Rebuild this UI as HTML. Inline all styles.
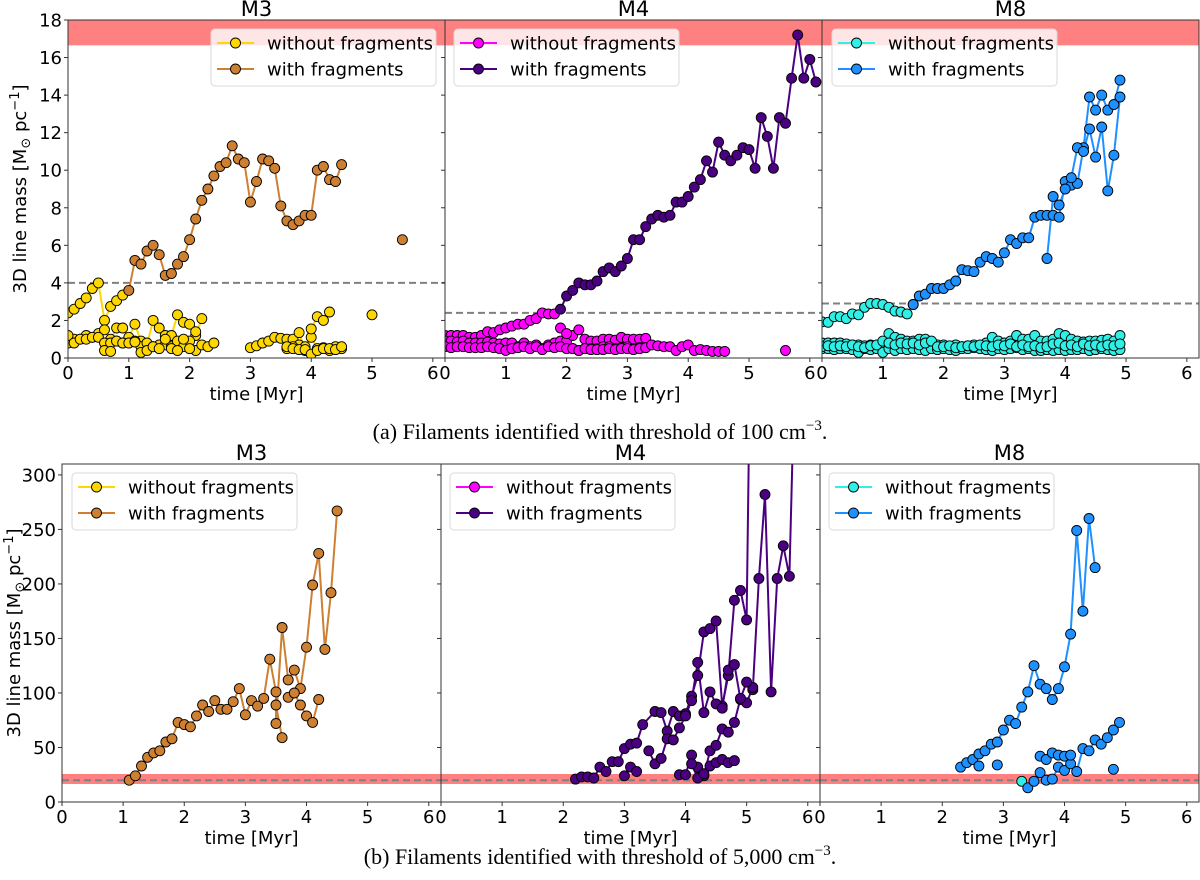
<!DOCTYPE html>
<html><head><meta charset="utf-8">
<style>
html,body{margin:0;padding:0;background:#fff;}
svg{display:block;}
text{font-family:"DejaVu Sans","Liberation Sans",sans-serif;fill:#000;}
.cap{font-family:"Liberation Serif",serif;font-size:22px;}
</style></head>
<body>
<svg id="fig" width="1200" height="880" viewBox="0 0 1200 880" xmlns="http://www.w3.org/2000/svg">
<text class="cap" x="600" y="439" text-anchor="middle">(a) Filaments identified with threshold of 100 cm<tspan dy="-9" font-size="15">−3</tspan><tspan dy="9">.</tspan></text>
<text class="cap" x="600" y="864" text-anchor="middle">(b) Filaments identified with threshold of 5,000 cm<tspan dy="-9" font-size="15">−3</tspan><tspan dy="9">.</tspan></text>
</svg>
<script>
// ===== DATA: top row (threshold 100) =====
const yTicksTop = [0,2,4,6,8,10,12,14,16,18];
const yTicksBottom = [0,50,100,150,200,250,300];
const xTicks = [0,1,2,3,4,5,6];
const thresholdsTop = [4.0, 2.4, 2.9];
const bandTop = [16.65, 18];
const thresholdsBottom = [20, 20, 20];
const bandBottom = [16.5, 25.7];

const m3aWithoutT = [
 [0,0.1,0.2,0.3,0.4,0.5,0.6,0.7,0.8,0.9],
 [0,0.1,0.2,0.3,0.4,0.5,0.6,0.7,0.8,0.9,1.0,1.1,1.2,1.3,1.4,1.5,1.6,1.7,1.8,1.9,2.0,2.1,2.2],
 [0,0.1,0.2,0.3,0.4,0.5,0.6,0.7,0.8,0.9,1.0,1.1,1.2,1.3,1.4,1.5,1.6,1.7,1.8,1.9,2.0,2.1,2.2,2.3,2.4],
 [0.6,0.7,0.8,0.9,1.0,1.1,1.2,1.3,1.4,1.5,1.6,1.7,1.8,1.9,2.0,2.1],
 [3.0,3.1,3.2,3.3,3.4,3.5,3.6,3.7,3.8,3.9,4.0,4.1,4.2,4.3,4.4,4.5],
 [3.6,3.7,3.8,3.9,4.0,4.1,4.2,4.3],
 [3.6,3.7,3.8,3.9,4.0,4.1,4.2,4.3,4.4,4.5],
 [5.0]
];
const m3aWithoutV = [
 [2.4,2.6,2.9,3.2,3.7,4.0,2.0,2.75,3.05,3.35],
 [0.8,1.0,1.0,1.2,1.1,1.3,1.5,1.0,1.6,1.6,1.1,1.8,0.9,0.7,2.0,1.6,1.2,1.2,2.3,1.9,1.8,1.2,2.1],
 [1.2,0.8,1.0,1.0,1.1,1.1,0.8,0.8,0.9,0.8,0.8,0.9,0.6,0.8,0.6,0.7,0.7,0.6,0.9,0.6,0.9,0.4,0.7,0.6,0.8],
 [0.4,0.35,0.9,0.8,0.8,0.85,0.3,0.4,0.6,0.5,1.0,0.5,0.4,1.0,0.5,1.4],
 [0.55,0.65,0.8,0.9,1.1,1.05,1.0,1.0,0.7,0.6,1.1,0.5,0.55,0.4,0.6,0.5],
 [0.5,0.6,1.35,0.4,1.55,2.2,2.0,2.45],
 [0.6,0.5,0.45,0.45,0.2,0.4,0.5,0.5,0.45,0.6],
 [2.3]
];
const m3aWithT = [
 [1.0,1.1,1.2,1.3,1.4,1.5,1.6,1.7,1.8,1.9,2.0,2.1,2.2,2.3,2.4,2.5,2.6,2.7,2.8,2.9,3.0,3.1,3.2,3.3,3.4,3.5,3.6,3.7,3.8,3.9,4.0,4.1,4.2,4.3,4.4,4.5],
 [5.5]
];
const m3aWithV = [
 [3.6,5.2,5.0,5.7,6.0,5.5,4.4,4.5,5.0,5.4,6.3,7.4,8.4,9.0,9.7,10.2,10.4,11.3,10.6,10.4,8.3,9.4,10.6,10.5,10.1,8.1,7.3,7.1,7.3,7.6,7.6,10.0,10.2,9.5,9.4,10.3],
 [6.3]
];

const m4aWithoutT = [
 [0,0.1,0.2,0.3,0.4,0.5,0.6,0.7,0.8,0.9,1.0,1.1,1.2,1.3,1.4,1.5,1.6,1.7,1.8],
 [0,0.1,0.2,0.3,0.4,0.5,0.6,0.7,0.8,0.9,1.0,1.1,1.2,1.3,1.4,1.5,1.6,1.7,1.8,1.9,2.0,2.1,2.2,2.3,2.4,2.5,2.6,2.7,2.8,2.9,3.0,3.1,3.2,3.3],
 [1.9,2.0,2.1,2.2,2.3,2.4,2.5,2.6,2.7,2.8,2.9,3.0,3.1,3.2,3.3],
 [0,0.1,0.2,0.3,0.4,0.5,0.6,0.7,0.8,0.9,1.0,1.1,1.2,1.3,1.4,1.5,1.6,1.7,1.8,1.9,2.0,2.1,2.2,2.3,2.4,2.5,2.6,2.7,2.8,2.9,3.0,3.1,3.2,3.3,3.4,3.5,3.6,3.7,3.8,3.9,4.0,4.1,4.2,4.3,4.4,4.5,4.6],
 [5.6]
];
const m4aWithoutV = [
 [1.2,1.2,1.2,1.2,1.1,1.1,1.2,1.4,1.35,1.5,1.6,1.7,1.8,1.8,2.0,2.1,2.4,2.35,2.35],
 [0.9,0.9,0.85,0.9,0.8,0.8,0.8,0.85,0.8,0.75,0.8,0.8,0.6,0.8,0.6,0.7,0.5,0.7,0.8,0.9,0.9,1.2,1.5,1.0,0.9,0.9,1.0,1.0,0.95,1.1,1.0,1.0,1.0,1.05],
 [1.6,1.3,0.5,0.4,0.5,0.5,0.5,0.6,0.6,0.5,0.55,0.6,0.5,0.55,0.55],
 [0.6,0.55,0.6,0.6,0.55,0.55,0.55,0.6,0.55,0.5,0.4,0.5,0.55,0.6,0.5,0.6,0.45,0.6,0.55,0.6,0.5,0.5,0.4,0.5,0.45,0.45,0.45,0.5,0.45,0.5,0.5,0.45,0.5,0.55,0.7,0.65,0.6,0.6,0.4,0.6,0.7,0.4,0.45,0.4,0.35,0.35,0.35],
 [0.4]
];
const m4aWithT = [
 [1.9,2.0,2.1,2.2,2.3,2.4,2.5,2.6,2.7,2.8,2.9,3.0,3.1,3.2,3.3,3.4,3.5,3.6,3.7,3.8,3.9,4.0,4.1,4.2,4.3,4.4,4.5,4.6,4.7,4.8,4.9,5.0,5.1,5.2,5.3,5.4,5.5,5.6,5.7,5.8,5.9,6.0,6.1]
];
const m4aWithV = [
 [2.6,3.3,3.6,4.0,3.9,3.9,4.1,4.6,4.8,4.6,4.9,5.3,6.3,6.3,7.0,7.4,7.6,7.5,7.6,8.3,8.3,8.6,9.1,9.5,10.5,9.9,11.5,10.8,10.5,10.8,11.2,11.1,10.1,12.8,11.8,10.1,12.8,12.5,14.9,17.2,14.9,15.9,14.7]
];

const m8aWithoutT = [
 [0,0.1,0.2,0.3,0.4,0.5,0.6,0.7,0.8,0.9,1.0,1.1,1.2,1.3,1.4,1.5],
 [0,0.1,0.2,0.3,0.4,0.5,0.6,0.7,0.8,0.9,1.0,1.1,1.2,1.3,1.4,1.5,1.6,1.7,1.8,1.9,2.0,2.1,2.2,2.3,2.4,2.5,2.6,2.7,2.8,2.9,3.0,3.1,3.2,3.3,3.4,3.5,3.6,3.7,3.8,3.9,4.0,4.1,4.2,4.3,4.4,4.5,4.6,4.7,4.8,4.9],
 [0,0.1,0.2,0.3,0.4,0.5,0.6,0.7,0.8,0.9,1.0,1.1,1.2,1.3,1.4,1.5,1.6,1.7,1.8,1.9,2.0,2.1,2.2,2.3,2.4,2.5,2.6,2.7,2.8,2.9,3.0,3.1,3.2,3.3,3.4,3.5,3.6,3.7,3.8,3.9,4.0,4.1,4.2,4.3,4.4,4.5,4.6,4.7,4.8,4.9],
 [0,0.1,0.2,0.3,0.4,0.5,0.6,0.7,0.8,0.9,1.0,1.1,1.2,1.3,1.4,1.5,1.6,1.7,1.8,1.9,2.0,2.1,2.2,2.3,2.4,2.5,2.6,2.7,2.8,2.9,3.0,3.1,3.2,3.3,3.4,3.5,3.6,3.7,3.8,3.9,4.0,4.1,4.2,4.3,4.4,4.5,4.6,4.7,4.8,4.9]
];
const m8aWithoutV = [
 [1.93,1.9,2.2,2.2,2.1,2.35,2.3,2.7,2.9,2.9,2.85,2.7,2.5,2.45,2.35,2.85],
 [0.8,0.8,0.8,0.8,0.75,0.7,0.7,0.65,0.7,0.6,0.8,1.3,1.1,1.0,0.9,0.9,1.0,1.0,0.8,0.7,0.7,0.6,0.7,0.6,0.65,0.7,0.6,0.8,1.1,0.9,0.8,0.9,1.2,1.0,1.0,1.2,0.9,0.9,1.0,1.3,1.2,1.0,0.9,0.85,0.9,0.9,0.95,1.0,0.9,1.2],
 [0.5,0.5,0.45,0.5,0.5,0.45,0.3,0.5,0.45,0.5,0.3,0.5,0.4,0.5,0.45,0.5,0.45,0.4,0.5,0.45,0.5,0.45,0.4,0.5,0.5,0.55,0.5,0.45,0.4,0.5,0.45,0.5,0.55,0.45,0.5,0.4,0.4,0.45,0.4,0.45,0.4,0.45,0.45,0.5,0.4,0.45,0.5,0.45,0.4,0.45],
 [0.6,0.65,0.6,0.65,0.6,0.7,0.6,0.55,0.65,0.7,0.9,0.8,0.7,0.8,0.75,0.8,0.7,0.8,0.9,0.6,0.6,0.65,0.55,0.6,0.65,0.6,0.7,0.65,0.6,0.7,0.65,0.75,0.6,0.7,0.6,0.65,0.55,0.6,0.75,0.8,0.65,0.7,0.6,0.75,0.65,0.7,0.6,0.7,0.65,0.75]
];
const m8aWithT = [
 [1.5,1.6,1.7,1.8,1.9,2.0,2.1,2.2,2.3,2.4,2.5,2.6,2.7,2.8,2.9,3.0,3.1,3.2,3.3,3.4,3.5,3.6,3.7,3.8,3.9,4.0,4.1,4.2,4.3,4.4,4.5,4.6,4.7,4.8,4.9],
 [3.7,3.8,3.9,4.0,4.1,4.2,4.3,4.4,4.5,4.6,4.7,4.8,4.9]
];
const m8aWithV = [
 [2.85,3.3,3.4,3.7,3.7,3.7,3.9,4.1,4.7,4.65,4.6,5.1,5.4,5.3,5.1,5.6,6.3,6.1,6.4,6.4,7.5,7.6,7.6,7.6,7.5,9.4,9.2,9.3,11.2,13.9,13.2,14.0,13.2,13.5,14.8],
 [5.3,8.6,8.15,9.0,9.6,11.2,11.0,12.2,10.7,12.3,8.9,10.8,13.9]
];

// ===== DATA: bottom row (threshold 5000) =====
const m3bWithT = [
 [1.1,1.2,1.3,1.4,1.5,1.6,1.7,1.8,1.9,2.0,2.1,2.2,2.3,2.4,2.5,2.6,2.7,2.8,2.9,3.0,3.1,3.2,3.3,3.4,3.5,3.5,3.6,3.7,3.8,3.9,4.0,4.1,4.2,4.3,4.4,4.5],
 [3.5,3.6],
 [3.7,3.8,3.9,4.0,4.1,4.2]
];
const m3bWithV = [
 [20,24,33,41,45,47,55,58,73,71,69,79,89,83,93,85,85,92,104,80,93,88,95,131,101,72,160,112,121,104,142,199,228,140,192,267],
 [89,59],
 [96,100,89,79,73,94]
];
const m4bWithT = [
 [2.2,2.3,2.4,2.5,2.6,2.7,2.8,2.9,3.0,3.1,3.2,3.3,3.5,3.6,3.7,3.8,3.9,4.0,4.1,4.2,4.3,4.4,4.5,4.6,4.7,4.8,4.9,5.0,5.04],
 [5.1,5.2,5.3,5.4,5.5,5.6,5.7,5.76],
 [3.4,3.5,3.6,3.7,3.8,3.9,4.0,4.1,4.2,4.3,4.4,4.5,4.6,4.7,4.8,4.9,5.0,5.1],
 [3.0,3.1,3.2],
 [3.9,4.0,4.1,4.2,4.3,4.4,4.5,4.6,4.7,4.8,4.9,5.0],
 [4.1,4.2,4.3,4.4,4.5,4.6,4.7,4.8]
];
const m4bWithV = [
 [21,23,23,22,32,28,37,37,49,53,54,71,83,82,65,83,79,81,97,116,156,159,166,88,116,185,194,167,340],
 [103,205,282,101,205,235,207,340],
 [47,35,40,58,57,68,79,93,128,82,101,90,86,121,126,94,91,105],
 [24,32,28],
 [25,25,43,32,24,47,52,67,64,73,95,110],
 [35,22,26,33,36,39,36,38]
];
const m8bWithoutT = [[3.3]];
const m8bWithoutV = [[19]];
const m8bWithT = [
 [2.3,2.4,2.5,2.6,2.7,2.8,2.9,3.0,3.1,3.2,3.3,3.4,3.5,3.6,3.7,3.8,3.9,4.0,4.1,4.2,4.3,4.4,4.5],
 [3.4,3.5,3.6,3.7,3.8,3.9,4.0,4.1,4.2,4.3,4.4,4.5,4.6,4.7,4.8,4.9],
 [3.6,3.7,3.8,3.9,4.0,4.1],
 [2.6],[2.9],[4.8]
];
const m8bWithV = [
 [32,36,39,44,47,53,55,66,75,72,87,101,125,108,104,94,104,124,154,249,175,260,215],
 [13,19,27,20,21,32,29,35,28,49,47,57,53,59,66,73],
 [42,39,45,43,42,43],
 [33],[34],[30]
];

// ===== rendering =====
const NS = 'http://www.w3.org/2000/svg';
const svg = document.getElementById('fig');
function mk(tag, attrs, parent){
  const e = document.createElementNS(NS, tag);
  for (const k in attrs) e.setAttribute(k, attrs[k]);
  (parent||svg).appendChild(e);
  return e;
}
const COLORS = {gold:'#ffd700', brown:'#cd7f32', magenta:'#ff00ff', indigo:'#4b0082', cyan:'#2ef0e6', blue:'#1e90ff'};
let clipId = 0;

function panel(p){
  const g = mk('g', {});
  
  
  const xS = t => p.x0 + (t / 6.2) * (p.x1 - p.x0);
  const yS = v => p.yb - (v / p.ymax) * (p.yb - p.yt);
  const cid = 'clip' + (clipId++);
  const defs = mk('defs', {}, g);
  const cp = mk('clipPath', {id: cid}, defs);
  mk('rect', {x:p.x0, y:p.yt, width:p.x1-p.x0, height:p.yb-p.yt}, cp);
  const plot = mk('g', {'clip-path':'url(#'+cid+')'}, g);
  const band = mk('rect', {x:p.x0, y:yS(p.band[1]), width:p.x1-p.x0, height:yS(p.band[0])-yS(p.band[1]), fill:'#ff8080'}, plot);
  
  
  const dl = mk('line', {x1:p.x0, x2:p.x1, y1:yS(p.thr), y2:yS(p.thr), stroke:'#808080', 'stroke-width':2, 'stroke-dasharray':'7,4'}, plot);
  
  
  p.series.forEach(s => {
    const sg = mk('g', {}, plot);
    
    
    s.T.forEach((tb, bi) => {
      const vb = s.V[bi];
      if (tb.length > 1){
        const pts = tb.map((t,i) => xS(t).toFixed(1)+','+yS(vb[i]).toFixed(1)).join(' ');
        const pl = mk('polyline', {points:pts, fill:'none', stroke:s.color, 'stroke-width':2, 'stroke-linejoin':'round'}, sg);
        
        
      }
    });
    s.T.forEach((tb, bi) => {
      const vb = s.V[bi];
      tb.forEach((t,i) => {
        const c = mk('circle', {cx:xS(t).toFixed(1), cy:yS(vb[i]).toFixed(1), r:5, fill:s.color, stroke:'#000', 'stroke-width':0.9}, sg);
        
        
      });
    });
  });
  const fr = mk('rect', {x:p.x0, y:p.yt, width:p.x1-p.x0, height:p.yb-p.yt, fill:'none', stroke:'#333', 'stroke-width':1}, g);
  
  
  p.yticks.forEach(v => {
    mk('line', {x1:p.x0-4, x2:p.x0, y1:yS(v), y2:yS(v), stroke:'#333', 'stroke-width':1}, g);
    if (p.ylabels){
      const tl = mk('text', {x:p.x0-6, y:yS(v)+6.5, 'text-anchor':'end', 'font-size':18}, g);
      tl.textContent = v;
      
      
    }
  });
  xTicks.forEach(t => {
    mk('line', {x1:xS(t), x2:xS(t), y1:p.yb, y2:p.yb+4, stroke:'#333', 'stroke-width':1}, g);
    const tl = mk('text', {x:xS(t), y:p.yb+21, 'text-anchor':'middle', 'font-size':18}, g);
    tl.textContent = t;
    
    
  });
  const xl = mk('text', {x:(p.x0+p.x1)/2, y:p.yb+42, 'text-anchor':'middle', 'font-size':18}, g);
  xl.textContent = 'time [Myr]';
  
  
  const tt = mk('text', {x:(p.x0+p.x1)/2, y:p.yt-4, 'text-anchor':'middle', 'font-size':21}, g);
  tt.textContent = p.title;
  
  
  if (p.ylabels){
    const yl = mk('text', {x:0, y:0, 'text-anchor':'middle', 'font-size':18, transform:'translate('+p.ytx+','+((p.yt+p.yb)/2)+') rotate(-90)'}, g);
    yl.innerHTML = '3D line mass [M<tspan dy="4" font-size="13">⊙</tspan><tspan dy="-4"> pc</tspan><tspan dy="-7" font-size="13">−1</tspan><tspan dy="7">]</tspan>';
    
    
  }
  const lg = mk('g', {}, g);
  
  
  const lx = p.legX, ly = p.yt + 9;
  mk('rect', {x:lx, y:ly, width:225, height:57, rx:4, fill:'#fff', 'fill-opacity':0.8, stroke:'#d8d8d8', 'stroke-width':1}, lg);
  p.series.slice(0,2).forEach((s, i) => {
    const yy = ly + 14 + i*26;
    const e = mk('g', {}, lg);
    
    
    mk('line', {x1:lx+6, x2:lx+43, y1:yy, y2:yy, stroke:s.color, 'stroke-width':2}, e);
    mk('circle', {cx:lx+24.5, cy:yy, r:5, fill:s.color, stroke:'#000', 'stroke-width':0.9}, e);
    const t = mk('text', {x:lx+56, y:yy+6.5, 'font-size':18}, e);
    t.textContent = i===0 ? 'without fragments' : 'with fragments';
  });
}

const TOP = {yt:20, yb:358, ymax:18, yticks:yTicksTop, band:bandTop};
const BOT = {yt:464, yb:802, ymax:310, yticks:yTicksBottom, band:bandBottom};
const empty = [[]];
panel(Object.assign({}, TOP, {name:'panel-a-m3', title:'M3', x0:68, x1:445, thr:thresholdsTop[0], ylabels:true, ytx:26, legX:211,
  series:[{name:'m3-without-fragments', color:COLORS.gold, T:m3aWithoutT, V:m3aWithoutV},{name:'m3-with-fragments', color:COLORS.brown, T:m3aWithT, V:m3aWithV}]}));
panel(Object.assign({}, TOP, {name:'panel-a-m4', title:'M4', x0:445, x1:822, thr:thresholdsTop[1], ylabels:false, legX:454,
  series:[{name:'m4-without-fragments', color:COLORS.magenta, T:m4aWithoutT, V:m4aWithoutV},{name:'m4-with-fragments', color:COLORS.indigo, T:m4aWithT, V:m4aWithV}]}));
panel(Object.assign({}, TOP, {name:'panel-a-m8', title:'M8', x0:822, x1:1199, thr:thresholdsTop[2], ylabels:false, legX:832,
  series:[{name:'m8-without-fragments', color:COLORS.cyan, T:m8aWithoutT, V:m8aWithoutV},{name:'m8-with-fragments', color:COLORS.blue, T:m8aWithT, V:m8aWithV}]}));
panel(Object.assign({}, BOT, {name:'panel-b-m3', title:'M3', x0:62, x1:441, thr:thresholdsBottom[0], ylabels:true, ytx:20, legX:72,
  series:[{name:'m3-without-fragments', color:COLORS.gold, T:empty, V:empty},{name:'m3-with-fragments', color:COLORS.brown, T:m3bWithT, V:m3bWithV}]}));
panel(Object.assign({}, BOT, {name:'panel-b-m4', title:'M4', x0:441, x1:820, thr:thresholdsBottom[1], ylabels:false, legX:450,
  series:[{name:'m4-without-fragments', color:COLORS.magenta, T:empty, V:empty},{name:'m4-with-fragments', color:COLORS.indigo, T:m4bWithT, V:m4bWithV}]}));
panel(Object.assign({}, BOT, {name:'panel-b-m8', title:'M8', x0:820, x1:1199, thr:thresholdsBottom[2], ylabels:false, legX:829,
  series:[{name:'m8-without-fragments', color:COLORS.cyan, T:m8bWithoutT, V:m8bWithoutV},{name:'m8-with-fragments', color:COLORS.blue, T:m8bWithT, V:m8bWithV}]}));
</script>
</body></html>
